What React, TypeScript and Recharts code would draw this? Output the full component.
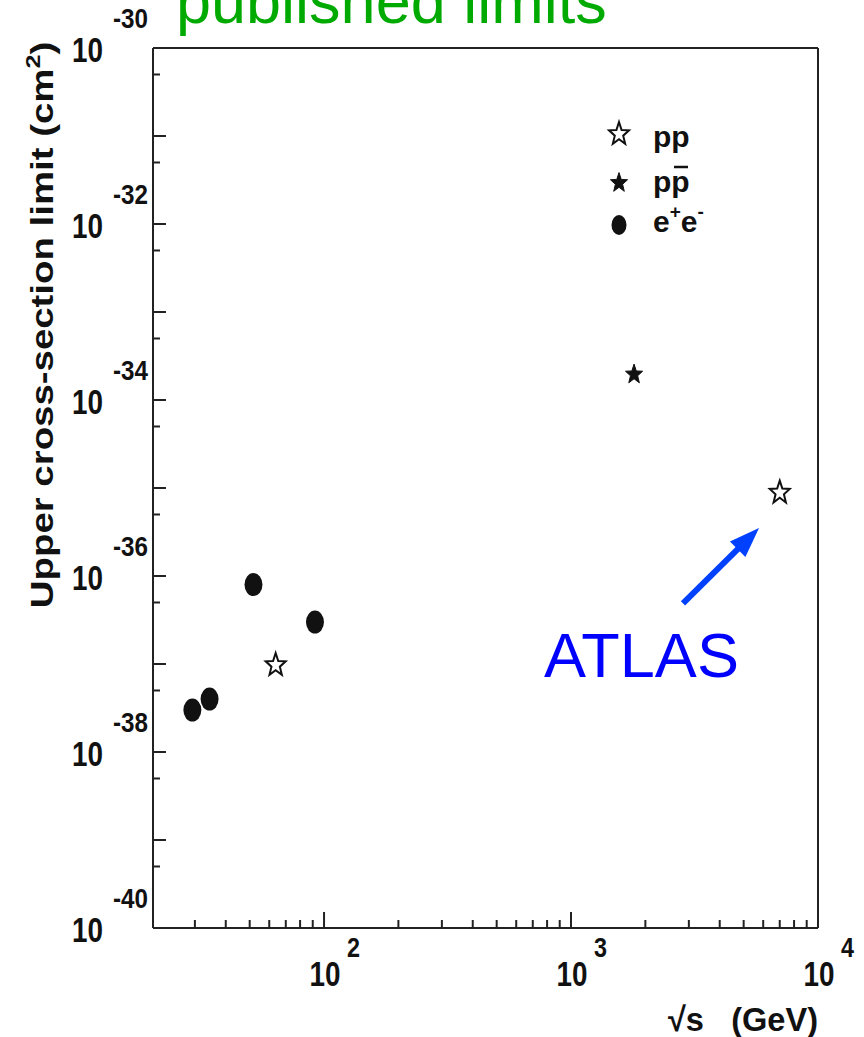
import React from 'react';
import { ScatterChart, Scatter, XAxis, YAxis, ReferenceLine, Legend, Customized } from 'recharts';

// ---- data ----
const eeEnergy = [29.3, 34.4, 51.8, 91.9];
const eeLimit = [3.0e-38, 4.0e-38, 8.0e-37, 3.0e-37];
const ppEnergy = [63.7, 7000];
const ppLimit = [1.0e-37, 9.1e-36];
const ppbarEnergy = [1800];
const ppbarLimit = [2.0e-34];

const xMajorExponents = [2, 3, 4];
const xMinorTicks = [30, 40, 50, 60, 70, 80, 90, 200, 300, 400, 500, 600, 700, 800, 900, 2000, 3000, 4000, 5000, 6000, 7000, 8000, 9000];
const yMajorExponents = [-30, -31, -32, -33, -34, -35, -36, -37, -38, -39, -40];
const yMinorTicks = [5e-31, 5e-32, 5e-33, 5e-34, 5e-35, 5e-36, 5e-37, 5e-38, 5e-39, 5e-40];
const yLabeledExponents = [-30, -32, -34, -36, -38, -40];

const xDomain = [20.3, 10000];
const yDomain = [1e-40, 1e-30];

const arrowFrom = { x: 2840, y: 4.9e-37 };
const arrowTo = { x: 5770, y: 3.5e-36 };

const eeData = eeEnergy.map((x, i) => ({ x, y: eeLimit[i] }));
const ppData = ppEnergy.map((x, i) => ({ x, y: ppLimit[i] }));
const ppbarData = ppbarEnergy.map((x, i) => ({ x, y: ppbarLimit[i] }));

const xTicks = [...xMajorExponents.map((e) => Math.pow(10, e)), ...xMinorTicks].sort((a, b) => a - b);
const yTicks = [...yMajorExponents.map((e) => Math.pow(10, e)), ...yMinorTicks].sort((a, b) => a - b);

const FONT = '"Liberation Sans", Arial, Helvetica, sans-serif';
const AXIS = '#222';

const isMajor = (v: number) => {
  const l = Math.log10(v);
  return Math.abs(l - Math.round(l)) < 1e-6;
};

const starPoints = (cx: number, cy: number, R: number, sy: number, ratio: number) => {
  const pts: string[] = [];
  for (let i = 0; i < 10; i++) {
    const r = i % 2 === 0 ? R : R * ratio;
    const a = -Math.PI / 2 + (i * Math.PI) / 5;
    pts.push(`${cx + r * Math.cos(a)},${cy + sy * r * Math.sin(a) + 0.09 * R * sy}`);
  }
  return pts.join(' ');
};

const OpenStar = (p: any) => (
  <polygon points={starPoints(p.cx, p.cy, 10.5, 1.15, 0.42)} fill="#fff" stroke="#111" strokeWidth={2} strokeLinejoin="miter" />
);
const FilledStar = (p: any) => (
  <polygon points={starPoints(p.cx, p.cy, 9, 1.15, 0.42)} fill="#111" stroke="#111" strokeWidth={1} />
);
const Dot = (p: any) => <ellipse cx={p.cx} cy={p.cy} rx={9} ry={11.5} fill="#111" />;

const YTick = (props: any) => {
  const { x, y, payload } = props;
  const v = payload.value;
  const major = isMajor(v);
  const e = Math.round(Math.log10(v));
  return (
    <g>
      <line x1={x} x2={x + (major ? 13 : 7)} y1={y} y2={y} stroke={AXIS} strokeWidth={2} />
      {major && yLabeledExponents.includes(e) && (
        <g fontFamily={FONT} fontWeight="bold" fill="#111">
          <text x={x - 50} y={y + 14} textAnchor="end" fontSize={35} textLength={31} lengthAdjust="spacingAndGlyphs">10</text>
          <text x={x - 5} y={y - 20} textAnchor="end" fontSize={27} textLength={35} lengthAdjust="spacingAndGlyphs">{String(e)}</text>
        </g>
      )}
    </g>
  );
};

const XTick = (props: any) => {
  const { x, y, payload } = props;
  const v = payload.value;
  const major = isMajor(v);
  const e = Math.round(Math.log10(v));
  return (
    <g>
      <line x1={x} x2={x} y1={y} y2={y - (major ? 16 : 8)} stroke={AXIS} strokeWidth={2} />
      {major && (
        <g fontFamily={FONT} fontWeight="bold" fill="#111">
          <text x={x + 1} y={y + 58} textAnchor="middle" fontSize={35} textLength={31} lengthAdjust="spacingAndGlyphs">10</text>
          <text x={x + 23} y={y + 29} textAnchor="start" fontSize={28} textLength={13} lengthAdjust="spacingAndGlyphs">{String(e)}</text>
        </g>
      )}
    </g>
  );
};

const ArrowShape = (p: any) => {
  const { x1, y1, x2, y2 } = p;
  if ([x1, y1, x2, y2].some((v) => typeof v !== 'number' || isNaN(v))) return <g />;
  const ang = Math.atan2(y2 - y1, x2 - x1);
  const c = Math.cos(ang);
  const s = Math.sin(ang);
  const headLen = 30;
  const headW = 11;
  const bx = x2 - headLen * c;
  const by = y2 - headLen * s;
  const nx = -s;
  const ny = c;
  return (
    <g>
      <line x1={x1} y1={y1} x2={bx + 4 * c} y2={by + 4 * s} stroke="#0040ff" strokeWidth={6} />
      <polygon points={`${x2},${y2} ${bx + nx * headW},${by + ny * headW} ${bx - nx * headW},${by - ny * headW}`} fill="#0040ff" />
    </g>
  );
};

const LegendContent = () => (
  <svg width={130} height={140} style={{ display: 'block', overflow: 'visible' }}>
    <g fontFamily={FONT} fontWeight="bold" fill="#111" fontSize={30}>
      <OpenStar cx={19} cy={28} />
      <text x={53} y={42}>pp</text>
      <FilledStar cx={19} cy={77} />
      <text x={53} y={87}>pp</text>
      <line x1={74} x2={88} y1={62} y2={62} stroke="#111" strokeWidth={2.5} />
      <ellipse cx={19} cy={120} rx={7.5} ry={10} fill="#111" />
      <text x={53} y={127}>
        e<tspan fontSize={19} dy={-14}>+</tspan>
        <tspan fontSize={30} dy={14}>e</tspan>
        <tspan fontSize={19} dy={-14}>-</tspan>
      </text>
    </g>
  </svg>
);

const Annotations = () => (
  <g>
    <text x={176} y={23} fill="#00aa00" fontSize={63} fontFamily={FONT}>published limits</text>
    <text x={544} y={677} fill="#0000ff" fontSize={63} fontFamily={FONT}>ATLAS</text>
    <text
      transform="translate(53,325) rotate(-90) scale(1.2,1)"
      textAnchor="middle"
      fontFamily={FONT}
      fontWeight="bold"
      fontSize={32}
      fill="#111"
    >
      Upper cross-section limit (cm<tspan fontSize={21} dy={-13}>2</tspan><tspan dy={13}>)</tspan>
    </text>
    <text x={818} y={1031} textAnchor="end" fontFamily={FONT} fontWeight="bold" fontSize={34} fill="#111" textLength={150} lengthAdjust="spacingAndGlyphs" xmlSpace="preserve">
      {'√s   (GeV)'}
    </text>
  </g>
);

export default function App() {
  return (
    <div style={{ position: 'absolute', left: 0, top: 0, width: 864, height: 1037, background: '#fff' }}>
      <ScatterChart width={864} height={1037} margin={{ top: 48, right: 46, bottom: 0, left: 0 }}>
        <XAxis
          type="number"
          dataKey="x"
          scale="log"
          domain={xDomain}
          allowDataOverflow
          ticks={xTicks}
          interval={0}
          height={109}
          tickSize={0}
          tickMargin={0}
          tickLine={false}
          axisLine={{ stroke: AXIS, strokeWidth: 2 }}
          tick={<XTick />}
        />
        <YAxis
          type="number"
          dataKey="y"
          scale="log"
          domain={yDomain}
          allowDataOverflow
          ticks={yTicks}
          interval={0}
          width={153}
          tickSize={0}
          tickMargin={0}
          tickLine={false}
          axisLine={{ stroke: AXIS, strokeWidth: 2 }}
          tick={<YTick />}
        />
        <ReferenceLine y={yDomain[1]} stroke={AXIS} strokeWidth={2} ifOverflow="visible" />
        <ReferenceLine x={xDomain[1]} stroke={AXIS} strokeWidth={2} ifOverflow="visible" />
        <ReferenceLine segment={[arrowFrom, arrowTo]} ifOverflow="visible" shape={<ArrowShape />} />
        <Scatter name="pp" data={ppData} shape={<OpenStar />} isAnimationActive={false} />
        <Scatter name="ppbar" data={ppbarData} shape={<FilledStar />} isAnimationActive={false} />
        <Scatter name="ee" data={eeData} shape={<Dot />} isAnimationActive={false} />
        <Legend
          layout="vertical"
          align="center"
          verticalAlign="middle"
          wrapperStyle={{ position: 'absolute', left: 600, top: 105, width: 130, height: 140 }}
          content={<LegendContent />}
        />
        <Customized component={<Annotations />} />
      </ScatterChart>
    </div>
  );
}
